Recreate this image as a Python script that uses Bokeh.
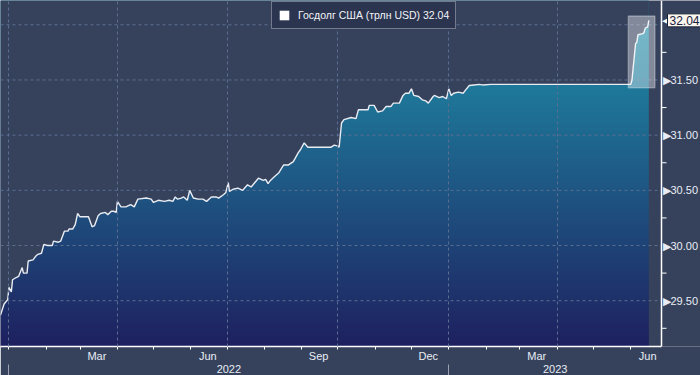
import numpy as np
from bokeh.plotting import figure
from bokeh.models import (FixedTicker, LinearAxis, Range1d, Grid, Legend, LegendItem,
                          Label, BoxAnnotation, Span)
from bokeh.core.properties import value
from bokeh.embed import file_html
from bokeh.resources import INLINE

# ---------------- data ----------------
start_date = np.datetime64("2022-01-01")   # day 0 of the day offsets below
days = [-7, -4, -1, 0, 2, 3, 6, 8, 11, 12,
        15, 16, 20, 22, 24, 27, 29, 32, 36, 37,
        41, 43, 46, 49, 50, 53, 55, 57, 59, 62,
        66, 69, 71, 74, 76, 80, 82, 85, 87, 89,
        90, 93, 97, 101, 104, 107, 114, 118, 120, 124,
        129, 133, 136, 138, 140, 143, 145, 148, 150, 153,
        157, 161, 164, 168, 172, 174, 178, 180, 182, 183,
        186, 190, 194, 198, 201, 207, 211, 213, 215, 217,
        220, 224, 228, 232, 236, 240, 242, 245, 248, 251,
        256, 259, 263, 267, 270, 273, 274, 276, 278, 284,
        288, 290, 298, 299, 303, 306, 310, 313, 317, 319,
        324, 327, 329, 332, 334, 336, 340, 343, 346, 348,
        352, 353, 357, 360, 363, 365, 367, 369, 373, 377,
        379, 382, 386, 390, 393, 400, 420, 440, 460, 480,
        500, 516, 517, 520, 521, 522, 526, 527, 528, 530,
        531]
debt = [29.37, 29.47, 29.51, 29.62, 29.58, 29.69, 29.71, 29.72, 29.80, 29.75,
        29.75, 29.86, 29.87, 29.90, 29.92, 29.93, 30.01, 30.00, 30.00, 30.04,
        30.03, 30.04, 30.13, 30.13, 30.15, 30.15, 30.19, 30.29, 30.26, 30.26,
        30.26, 30.17, 30.18, 30.27, 30.29, 30.30, 30.28, 30.31, 30.31, 30.30,
        30.40, 30.35, 30.35, 30.37, 30.35, 30.42, 30.43, 30.42, 30.39, 30.41,
        30.40, 30.41, 30.40, 30.44, 30.42, 30.43, 30.44, 30.41, 30.50, 30.43,
        30.42, 30.42, 30.40, 30.44, 30.44, 30.43, 30.46, 30.48, 30.57, 30.49,
        30.51, 30.52, 30.50, 30.55, 30.53, 30.61, 30.59, 30.60, 30.56, 30.59,
        30.62, 30.66, 30.73, 30.73, 30.76, 30.84, 30.87, 30.93, 30.89, 30.89,
        30.89, 30.89, 30.89, 30.89, 30.91, 30.90, 30.89, 31.11, 31.14, 31.16,
        31.15, 31.23, 31.23, 31.27, 31.27, 31.21, 31.22, 31.26, 31.26, 31.29,
        31.29, 31.36, 31.38, 31.38, 31.42, 31.36, 31.35, 31.32, 31.31, 31.29,
        31.35, 31.36, 31.34, 31.35, 31.33, 31.42, 31.36, 31.38, 31.39, 31.38,
        31.41, 31.45, 31.455, 31.46, 31.455, 31.46, 31.46, 31.46, 31.46, 31.46,
        31.46, 31.46, 31.50, 31.83, 31.84, 31.91, 31.92, 31.93, 31.97, 31.98,
        32.04]
highlight_from = 516          # day offset where the highlighted window starts (2023-06-01)
series_name = "Госдолг США (трлн USD)"
y_major = [29.5, 30.0, 30.5, 31.0, 31.5, 32.0]
y_minor = [29.25, 29.75, 30.25, 30.75, 31.25, 31.75]
month_names = {3: "Mar", 6: "Jun", 9: "Sep", 12: "Dec"}

# ---------------- derived ticks ----------------
months = np.arange(np.datetime64("2022-01"), np.datetime64("2023-07"), dtype="datetime64[M]")
month_start = [int((m.astype("datetime64[D]") - start_date).astype(int)) for m in months]
month_num = [int(str(m)[5:7]) for m in months]
label_ticks, label_over = [], {}
for d, mn in zip(month_start, month_num):
    if mn in month_names:
        t = d + 14
        label_ticks.append(t)
        label_over[t] = month_names[mn]
quarter_starts = [d for d, mn in zip(month_start, month_num) if mn in (1, 4, 7, 10)]
year_starts = [d for d, mn in zip(month_start, month_num) if mn == 1]

bg = "#36425c"
txt = "#e8edf5"
font = "Liberation Sans"

W, H = 700, 346          # frame size in px
AREA_W = 661             # px width of the chart area left of the value scale
x0 = days[0]
axis_x = days[-1] + 10.5
x1 = x0 + (axis_x - x0) * W / AREA_W
y0, y1 = 29.085, 32.22

p = figure(frame_width=W, frame_height=H, x_range=Range1d(x0, x1), y_range=Range1d(y0, y1),
           x_axis_location=None, y_axis_location=None,
           output_backend="svg", toolbar_location=None, min_border=0,
           background_fill_color=bg, border_fill_color=bg, outline_line_color=None)
p.xgrid.visible = False
p.ygrid.visible = False

# gradient under the line
ny = 256
yy = np.linspace(y0, y1, ny)
c_bot = np.array([0x1f, 0x21, 0x60], dtype=float)
c_mid = np.array([0x1e, 0x7b, 0x9c], dtype=float)
t = (yy - y0) / (31.5 - y0)
cols = np.clip(c_bot + (c_mid - c_bot) * t[:, None], 0, 255).astype(np.uint8)
img = np.empty((ny, 2), dtype=np.uint32)
view = img.view(dtype=np.uint8).reshape((ny, 2, 4))
for k in range(2):
    view[:, k, 0] = cols[:, 0]
    view[:, k, 1] = cols[:, 1]
    view[:, k, 2] = cols[:, 2]
    view[:, k, 3] = 255
p.image_rgba(image=[img], x=days[0], y=y0, dw=days[-1] - days[0], dh=y1 - y0)

# mask above the line
p.varea(x=days, y1=debt, y2=[y1] * len(days), fill_color=bg)

# grids
grid_col = "#5b6e92"
gx = Grid(dimension=0, ticker=FixedTicker(ticks=quarter_starts), grid_line_color=grid_col,
          grid_line_dash="3 3", grid_line_width=1, level="guide")
p.add_layout(gx)
p.segment(x0=[x0] * len(y_major), x1=[axis_x] * len(y_major), y0=y_major, y1=y_major,
          line_color=grid_col, line_dash="3 3", line_width=1)

p.line(days, debt, line_color="#e9ecf2", line_width=1.4)

# highlight box
win = [v for d, v in zip(days, debt) if d >= highlight_from]
p.add_layout(BoxAnnotation(left=highlight_from - 2, right=days[-1] + 5,
                           bottom=min(win) - 0.03, top=max(win) + 0.04,
                           fill_color="white", fill_alpha=0.38,
                           line_color="white", line_width=1.5, level="overlay"))

# value scale on the right (drawn inside the frame)
p.add_layout(Span(location=axis_x, dimension="height", line_color="white", line_width=1.5))
p.ray(x=[axis_x] * len(y_minor), y=y_minor, length=5, length_units="screen", angle=0,
      line_color="white", line_width=1)
lab_y = [v for v in y_major if v != 32.0]
p.text(x=[axis_x] * len(lab_y), y=lab_y, text=["\u25B6" + f"{v:.2f}" for v in lab_y],
       x_offset=1, text_baseline="middle", text_align="left",
       text_font=value(font), text_font_size="11px", text_color=txt)

# bottom axes
xa = LinearAxis(ticker=FixedTicker(ticks=label_ticks, minor_ticks=month_start),
                major_label_overrides=label_over, bounds=(x0, axis_x))
xa.major_tick_out = 0
xa.major_tick_in = 0
xa.minor_tick_out = 3
xa.minor_tick_in = 0
xa.minor_tick_line_color = "white"
xa.axis_line_color = "white"
xa.axis_line_width = 1.5
xa.major_label_standoff = 0
xa.major_label_text_font = font
xa.major_label_text_font_size = "11px"
xa.major_label_text_color = txt
p.add_layout(xa, "below")

year_mid = [(year_starts[0] + year_starts[1]) / 2, (year_starts[1] + axis_x) / 2]
xa2 = LinearAxis(ticker=FixedTicker(ticks=year_mid, minor_ticks=year_starts),
                 major_label_overrides={year_mid[0]: "2022", year_mid[1]: "2023"})
xa2.axis_line_color = None
xa2.major_tick_out = 0
xa2.major_tick_in = 0
xa2.minor_tick_out = 14
xa2.minor_tick_in = 0
xa2.minor_tick_line_color = "#9aa1b0"
xa2.major_label_standoff = -14
xa2.major_label_text_font = font
xa2.major_label_text_font_size = "11px"
xa2.major_label_text_color = txt
p.add_layout(xa2, "below")

# last value callout
p.add_layout(Label(x=axis_x, y=debt[-1], x_offset=0, text="\u25C0", text_baseline="middle",
                   text_align="left", text_color="#fbf6ee", text_font_size="11px"))
p.add_layout(Label(x=axis_x, y=debt[-1], x_offset=6, text=f"{debt[-1]:.2f}", text_baseline="middle",
                   text_align="left", text_color="#1a2040", text_font=font, text_font_size="12px",
                   background_fill_color="#fbf6ee", border_line_color="#1a2238",
                   padding=2))

# legend (zero-size quad at the last point, only used for the legend swatch)
r = p.quad(left=[days[-1]], right=[days[-1]], bottom=[debt[-1]], top=[debt[-1]],
           fill_color="white", line_color=None)
legend = Legend(items=[LegendItem(label=f"{series_name} {debt[-1]:.2f}", renderers=[r])],
                location=(271, H - 3 - 26), orientation="horizontal",
                background_fill_color="#2c3550", background_fill_alpha=1,
                border_line_color="#b9bfcc", border_line_width=1,
                label_text_color="#f2f4f8", label_text_font=font, label_text_font_size="10.5px",
                glyph_width=12, glyph_height=12, label_standoff=8, padding=6, margin=0,
                label_height=14)
p.add_layout(legend)

open("out.html", "w").write(file_html(p, INLINE))
